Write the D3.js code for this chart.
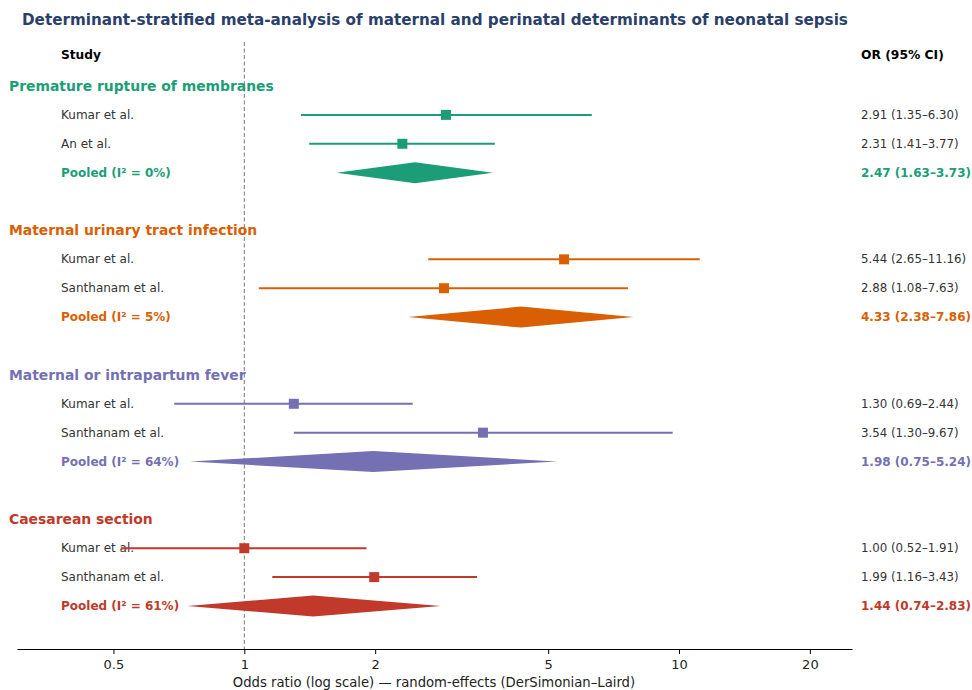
<!DOCTYPE html>
<html><head><meta charset="utf-8">
<script src="https://cdn.jsdelivr.net/npm/d3@7"></script>
<style>
body{margin:0;background:#fff;}
text{font-family:"DejaVu Sans",sans-serif;}
</style></head>
<body><svg id="chart" width="972" height="690"></svg>
<script>
const groups = ["Premature rupture of membranes","Maternal urinary tract infection","Maternal or intrapartum fever","Caesarean section"];
const groupColors = ["#1b9e77","#d95f02","#7570b3","#c0392b"];
const studyNames = [["Kumar et al.","An et al."],["Kumar et al.","Santhanam et al."],["Kumar et al.","Santhanam et al."],["Kumar et al.","Santhanam et al."]];
const studyOR = [[2.91,2.31],[5.44,2.88],[1.30,3.54],[1.00,1.99]];
const studyLo = [[1.35,1.41],[2.65,1.08],[0.69,1.30],[0.52,1.16]];
const studyHi = [[6.30,3.77],[11.16,7.63],[2.44,9.67],[1.91,3.43]];
const pooledI2 = [0,5,64,61];
const pooledOR = [2.47,4.33,1.98,1.44];
const pooledLo = [1.63,2.38,0.75,0.74];
const pooledHi = [3.73,7.86,5.24,2.83];
const xTicks = [0.5,1,2,5,10,20];

const svg = d3.select("#chart");
const x = d3.scaleLog().domain([0.3,25]).range([17,852]);
const y = d3.scaleLinear().domain([0,18]).range([86,606]);
const fmt = d3.format(".2f");

svg.append("text").attr("x",22).attr("y",25).attr("font-size",15.2).attr("font-weight","bold")
  .attr("fill","#2b3f6b").text("Determinant-stratified meta-analysis of maternal and perinatal determinants of neonatal sepsis");
svg.append("text").attr("x",61).attr("y",59).attr("font-size",12.2).attr("font-weight","bold").attr("fill","#000").text("Study");
svg.append("text").attr("x",861).attr("y",59).attr("font-size",12.3).attr("font-weight","bold").attr("fill","#000").text("OR (95% CI)");

// reference line
svg.append("line").attr("x1",x(1)).attr("x2",x(1)).attr("y1",42).attr("y2",649)
  .attr("stroke","#777").attr("stroke-width",1).attr("stroke-dasharray","4,2.5");

groups.forEach((g,gi)=>{
  const c = groupColors[gi];
  const r0 = gi*5;
  svg.append("text").attr("x",9).attr("y",y(r0)+5).attr("font-size",13.9).attr("font-weight","bold").attr("fill",c).text(g);
  studyNames[gi].forEach((s,si)=>{
    const yy = y(r0+1+si);
    svg.append("text").attr("x",61).attr("y",yy+4).attr("font-size",12).attr("fill","#333").text(s);
    svg.append("line").attr("x1",x(studyLo[gi][si])).attr("x2",x(studyHi[gi][si])).attr("y1",yy).attr("y2",yy)
      .attr("stroke",c).attr("stroke-width",2);
    svg.append("rect").attr("x",x(studyOR[gi][si])-5).attr("y",yy-5).attr("width",10).attr("height",10).attr("fill",c);
    svg.append("text").attr("x",861).attr("y",yy+4).attr("font-size",11.8).attr("fill","#333")
      .text(`${fmt(studyOR[gi][si])} (${fmt(studyLo[gi][si])}–${fmt(studyHi[gi][si])})`);
  });
  const py = y(r0+3);
  svg.append("text").attr("x",61).attr("y",py+4).attr("font-size",12).attr("font-weight","bold").attr("fill",c)
    .text(`Pooled (I² = ${pooledI2[gi]}%)`);
  svg.append("path").attr("d",`M${x(pooledLo[gi])},${py}L${x(pooledOR[gi])},${py-10.5}L${x(pooledHi[gi])},${py}L${x(pooledOR[gi])},${py+10.5}Z`)
    .attr("fill",c);
  svg.append("text").attr("x",861).attr("y",py+4).attr("font-size",12).attr("font-weight","bold").attr("fill",c)
    .text(`${fmt(pooledOR[gi])} (${fmt(pooledLo[gi])}–${fmt(pooledHi[gi])})`);
});

const ax = svg.append("g").attr("transform","translate(0,649)")
  .call(d3.axisBottom(x).tickValues(xTicks).tickFormat(d=>String(d)).tickSize(5).tickSizeOuter(0));
ax.select(".domain").attr("stroke","#000").attr("stroke-width",1);
ax.selectAll(".tick line").attr("stroke","#000");
ax.selectAll(".tick text").attr("font-size",13).attr("font-family","DejaVu Sans").attr("fill","#222").attr("dy","0.9em");
svg.append("text").attr("x",434).attr("y",687).attr("text-anchor","middle").attr("font-size",13.2).attr("fill","#222")
  .text("Odds ratio (log scale) — random-effects (DerSimonian–Laird)");
</script></body></html>
